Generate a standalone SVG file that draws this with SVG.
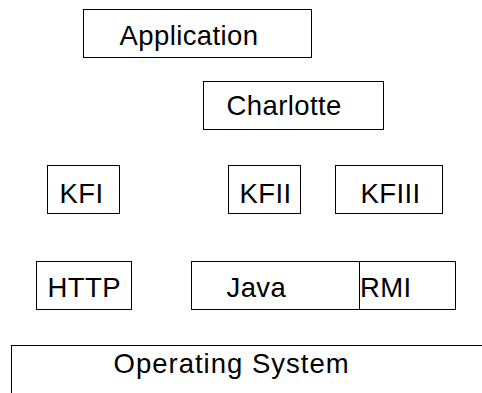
<svg xmlns="http://www.w3.org/2000/svg" width="482" height="393" viewBox="0 0 482 393">
<style>
rect{fill:#fff;stroke:#000;stroke-width:1}
text{font-family:"Liberation Sans",Arial,sans-serif;font-size:27.5px;fill:#000;letter-spacing:0.4px}
#os text{letter-spacing:1px}
</style>
<rect x="0" y="0" width="482" height="393" style="stroke:none"/>
<g id="application"><rect x="83.5" y="9.5" width="228" height="48"/><text x="119.5" y="44.5">Application</text></g>
<g id="charlotte"><rect x="203.5" y="81.5" width="180" height="48"/><text x="226.5" y="114.5">Charlotte</text></g>
<g id="kfi"><rect x="47.5" y="165.5" width="72" height="48"/><text x="59.5" y="202.5">KFI</text></g>
<g id="kfii"><rect x="228.5" y="165.5" width="72" height="48"/><text x="239.5" y="202.5">KFII</text></g>
<g id="kfiii"><rect x="335.5" y="165.5" width="107" height="48"/><text x="360.5" y="202.5">KFIII</text></g>
<g id="http"><rect x="36.5" y="261.5" width="95" height="48"/><text x="47.5" y="296.5">HTTP</text></g>
<g id="java"><rect x="191.5" y="261.5" width="168" height="48"/><text x="226.5" y="296.5">Java</text></g>
<g id="rmi"><rect x="359.5" y="261.5" width="96" height="48"/><text x="360" y="296.5">RMI</text></g>
<g id="os"><rect x="11.5" y="345.5" width="500" height="100"/><text x="113.5" y="372.5">Operating System</text></g>
<g id="connectors"></g>
</svg>
